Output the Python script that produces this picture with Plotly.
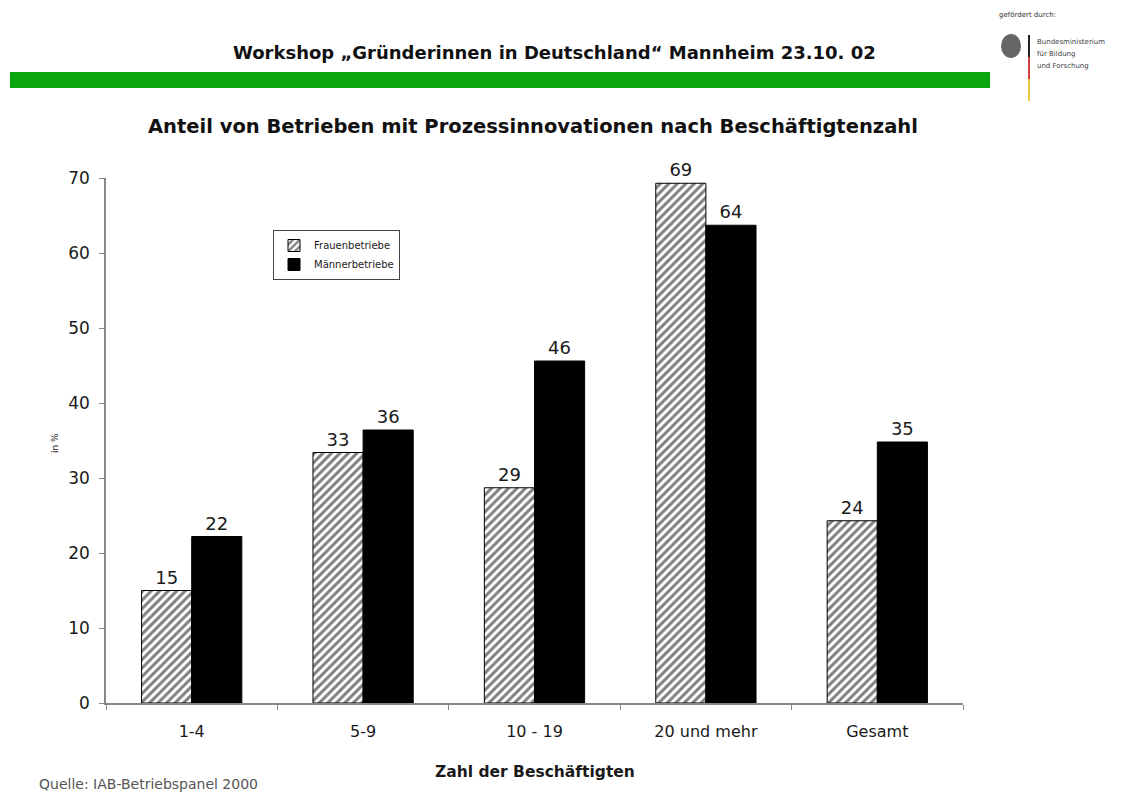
import plotly.graph_objects as go

# Data
categories = ["1-4", "5-9", "10 - 19", "20 und mehr", "Gesamt"]
frauen = [15.0, 33.4, 28.7, 69.3, 24.3]
maenner = [22.2, 36.4, 45.6, 63.7, 34.8]
y_ticks = [0, 10, 20, 30, 40, 50, 60, 70]

FONT = "DejaVu Sans, Arial, sans-serif"
TXT = "#1a1a1a"

# plot area in pixels: x 106..963, y 178 (70) .. 703 (0)
def px_x(v):
    return (v - 106) / 857

def px_y(v):
    return (703 - v) / 525

fig = go.Figure()
fig.add_trace(go.Bar(
    name="Frauenbetriebe", x=categories, y=frauen,
    marker=dict(color="white", line=dict(color="black", width=1),
                pattern=dict(shape="/", fgcolor="black", bgcolor="white",
                             size=6, solidity=0.5)),
    texttemplate="%{y:.0f}", textposition="outside", cliponaxis=False,
    textfont=dict(family=FONT, size=18, color=TXT),
))
fig.add_trace(go.Bar(
    name="Männerbetriebe", x=categories, y=maenner,
    marker=dict(color="black", line=dict(color="black", width=1)),
    texttemplate="%{y:.0f}", textposition="outside", cliponaxis=False,
    textfont=dict(family=FONT, size=18, color=TXT),
))

fig.update_layout(
    width=1124, height=792,
    margin=dict(l=106, r=161, t=178, b=89),
    paper_bgcolor="white", plot_bgcolor="white",
    barmode="group", bargap=0.415, bargroupgap=0,
    font=dict(family=FONT, color=TXT),
    legend=dict(x=px_x(273), y=px_y(230), xanchor="left", yanchor="top",
                bordercolor="#444", borderwidth=1, bgcolor="white",
                font=dict(size=10, color=TXT), itemwidth=30,
                tracegroupgap=2),
    xaxis=dict(showline=True, linecolor="#888", linewidth=1.5,
               ticks="outside", tickson="boundaries", ticklen=5,
               tickcolor="#888", showgrid=False, ticklabelstandoff=13,
               tickfont=dict(size=16, color=TXT)),
    yaxis=dict(range=[0, 70], tickvals=y_ticks, showline=True,
               linecolor="#888", linewidth=1.5, ticks="outside",
               ticklen=5, tickcolor="#888", showgrid=False, zeroline=False,
               ticklabelstandoff=6,
               tickfont=dict(size=17, color=TXT)),
)

# Header line and green band
fig.add_annotation(xref="paper", yref="paper", x=px_x(554), y=px_y(52),
                   text="<b>Workshop „Gründerinnen in Deutschland“ Mannheim 23.10. 02</b>",
                   showarrow=False, font=dict(size=18, color="#111"),
                   xanchor="center", yanchor="middle")
fig.add_shape(type="rect", xref="paper", yref="paper",
              x0=px_x(10), x1=px_x(990), y0=px_y(88), y1=px_y(72),
              fillcolor="#0aa50a", line=dict(width=0), layer="above")

# Chart title
fig.add_annotation(xref="paper", yref="paper", x=px_x(533), y=px_y(127),
                   text="<b>Anteil von Betrieben mit Prozessinnovationen nach Beschäftigtenzahl</b>",
                   showarrow=False, font=dict(size=19.5, color="#111"),
                   xanchor="center", yanchor="middle")

# Axis titles
fig.add_annotation(xref="paper", yref="paper", x=px_x(55), y=px_y(443),
                   text="in %", textangle=-90, showarrow=False,
                   font=dict(size=9, color=TXT),
                   xanchor="center", yanchor="middle")
fig.add_annotation(xref="paper", yref="paper", x=px_x(535), y=px_y(772),
                   text="<b>Zahl der Beschäftigten</b>", showarrow=False,
                   font=dict(size=15.5, color=TXT),
                   xanchor="center", yanchor="middle")

# Source note
fig.add_annotation(xref="paper", yref="paper", x=px_x(37), y=px_y(784),
                   text="Quelle: IAB-Betriebspanel 2000", showarrow=False,
                   font=dict(size=14, color="#555"),
                   xanchor="left", yanchor="middle")

# Sponsor block (top right)
fig.add_annotation(xref="paper", yref="paper", x=px_x(997), y=px_y(15),
                   text="gefördert durch:", showarrow=False,
                   font=dict(size=7, color="#333"), xanchor="left", yanchor="middle")
fig.add_shape(type="circle", xref="paper", yref="paper",
              x0=px_x(1001), x1=px_x(1021), y0=px_y(58), y1=px_y(34),
              fillcolor="#666", line=dict(width=0))
for y0, y1, col in [(35, 57, "#222"), (57, 79, "#d04040"), (79, 101, "#e8c840")]:
    fig.add_shape(type="line", xref="paper", yref="paper",
                  x0=px_x(1029), x1=px_x(1029), y0=px_y(y0), y1=px_y(y1),
                  line=dict(color=col, width=2))
for i, line in enumerate(["Bundesministerium", "für Bildung", "und Forschung"]):
    fig.add_annotation(xref="paper", yref="paper", x=px_x(1035),
                       y=px_y(42 + i * 12), text=line, showarrow=False,
                       font=dict(size=7, color="#444"),
                       xanchor="left", yanchor="middle")

fig.write_html("out.html")
